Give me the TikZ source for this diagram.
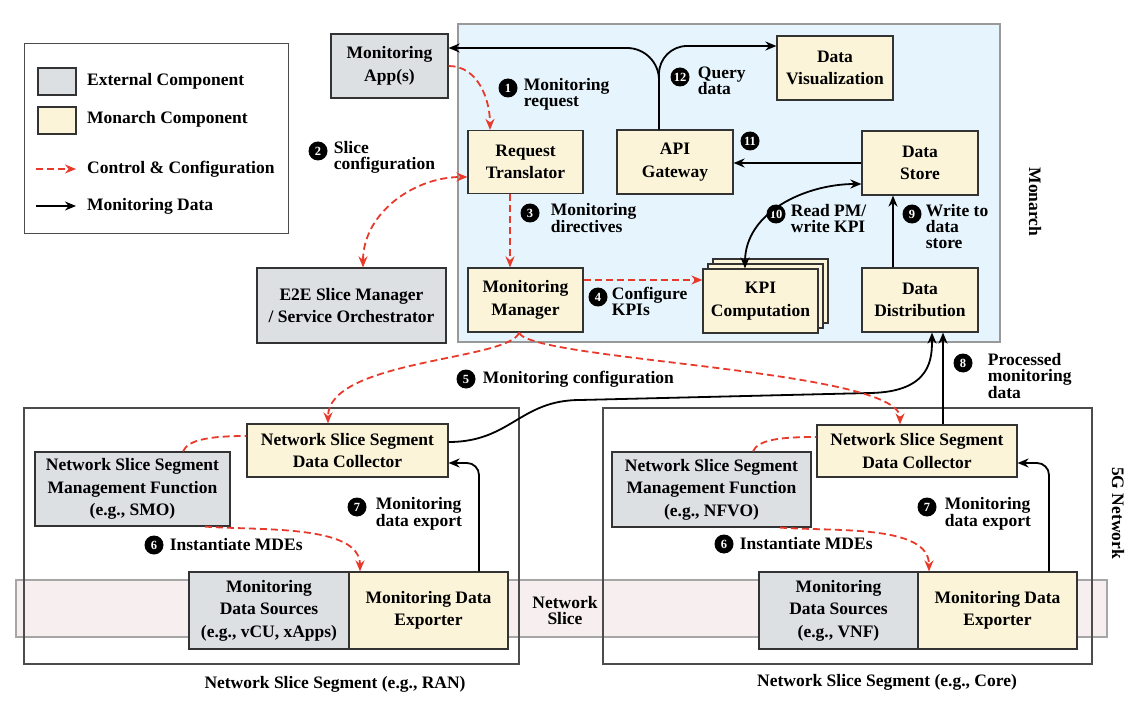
\documentclass[tikz,border=0pt]{standalone}
\usepackage{fontspec}
\setmainfont{Liberation Serif}
\usetikzlibrary{positioning,arrows.meta}
\definecolor{extgray}{HTML}{DCE0E3}
\definecolor{monyellow}{HTML}{FCF4D9}
\definecolor{monblue}{HTML}{E6F5FD}
\definecolor{slicepink}{HTML}{F6EEEF}
\definecolor{ctrlred}{HTML}{E83A2B}
\tikzset{%
  every comp/.style={
    draw=black!80,
    line width=1.2pt,
    align=center,
    inner sep=0pt,
    font=\bfseries\fontsize{17.5}{22.5}\selectfont
  },
  comp ext/.style={fill=extgray},
  comp mon/.style={fill=monyellow},
  ctrl/.style={draw=ctrlred, line width=1.8pt, dash pattern=on 7pt off 4pt, ->},
  mdata/.style={draw=black, line width=1.8pt, ->},
  numdot/.style={
    circle,
    fill=black,
    text=white,
    inner sep=0pt,
    minimum size=19pt,
    font=\bfseries\fontsize{12.5}{12.5}\selectfont
  },
  steplabel/.style={align=left, inner sep=0pt, font=\bfseries\fontsize{17.5}{16}\selectfont},
}

\begin{document}
\begin{tikzpicture}[x=1pt, y=-1pt, >={Stealth[length=11pt,width=9pt]}]
        \useasboundingbox (0,0) rectangle (1144,706);

        % frames
        \draw [draw=black!70, line width=1pt] (24,44) rectangle (288,233);
        \draw [fill=monblue, draw=black!40, line width=1.2pt] (458,24) rectangle (1000,342);
        \draw [fill=slicepink, draw=black!35, line width=1.2pt] (16,580) rectangle (1107,637);
        \draw [draw=black!70, line width=1.2pt] (24,408) rectangle (519,664);
        \draw [draw=black!70, line width=1.2pt] (603,408) rectangle (1092,664);

        % legend
        \node [every comp, comp ext, minimum width=38pt, minimum height=27pt] (leg-ext) at (57,81.5) {};
        \node [every comp, comp mon, minimum width=38pt, minimum height=27pt] (leg-mon) at (57,120.5) {};
        \foreach \m/\l [count=\y] in {ext/External Component, mon/Monarch Component}
        \node [steplabel, anchor=west] (leg-\m-txt) at (87,43+\y*38) {\l};
        \node [steplabel, anchor=west] (leg-ctrl) at (87,169) {Control \& Configuration};
        \node [steplabel, anchor=west] (leg-data) at (87,206) {Monitoring Data};
        \draw [ctrl] ([xshift=-51pt]leg-ctrl.west) -- ([xshift=-11pt]leg-ctrl.west);
        \draw [mdata] ([xshift=-51pt]leg-data.west) -- ([xshift=-11pt]leg-data.west);

        % monarch
        \node [every comp, comp ext, minimum width=117pt, minimum height=64pt] (app) at (389.5,66) {Monitoring\\App(s)};
        \node [every comp, comp ext, minimum width=189pt, minimum height=75pt] (e2e) at (351.5,305.5) {E2E Slice Manager\\/ Service Orchestrator};
        \node [every comp, comp mon, minimum width=115pt, minimum height=63pt] (rt) at (525.5,162) {Request\\Translator};
        \node [every comp, comp mon, minimum width=116pt, minimum height=64pt] (api) at (675,162) {API\\Gateway};
        \node [every comp, comp mon, minimum width=116pt, minimum height=64pt] (vis) at (835,68) {Data\\Visualization};
        \node [every comp, comp mon, minimum width=116pt, minimum height=64pt] (store) at (920,163) {Data\\Store};
        \node [every comp, comp mon, minimum width=115pt, minimum height=64pt] (mm) at (525.5,300) {Monitoring\\Manager};
        \node [every comp, comp mon, minimum width=115pt, minimum height=64pt] (kpi-3) at (770.5,291) {};
        \node [every comp, comp mon, minimum width=115pt, minimum height=64pt] (kpi-2) at (765.5,296) {};
        \node [every comp, comp mon, minimum width=115pt, minimum height=64pt] (kpi) at (760.5,301) {KPI\\Computation};
        \node [every comp, comp mon, minimum width=116pt, minimum height=64pt] (dist) at (920,300) {Data\\Distribution};

        % segments
        \node [every comp, comp mon, minimum width=201pt, minimum height=53pt] (dc1) at (347.5,450.5) {Network Slice Segment\\Data Collector};
        \node [every comp, comp ext, minimum width=195pt, minimum height=74pt] (mf1) at (132.5,489) {Network Slice Segment\\Management Function\\(e.g., SMO)};
        \node [every comp, comp ext, minimum width=160pt, minimum height=77pt] (src1) at (269,610.5) {Monitoring\\Data Sources\\(e.g., vCU, xApps)};
        \node [every comp, comp mon, minimum width=159pt, minimum height=77pt] (exp1) at (428.5,610.5) {Monitoring Data\\Exporter};
        \node [every comp, comp mon, minimum width=200pt, minimum height=52pt] (dc2) at (917,451) {Network Slice Segment\\Data Collector};
        \node [every comp, comp ext, minimum width=199pt, minimum height=75pt] (mf2) at (711.5,489.5) {Network Slice Segment\\Management Function\\(e.g., NFVO)};
        \node [every comp, comp ext, minimum width=159pt, minimum height=77pt] (src2) at (838.5,610.5) {Monitoring\\Data Sources\\(e.g., VNF)};
        \node [every comp, comp mon, minimum width=159pt, minimum height=77pt] (exp2) at (997.5,610.5) {Monitoring Data\\Exporter};

        % titles
        \node [steplabel, rotate=-90] (monarch) at (1035,202) {Monarch};
        \node [steplabel, rotate=-90] (fiveg) at (1118,513) {5G Network};
        \node [steplabel, align=center] (slice) at (565,611) {Network\\Slice};
        \node [steplabel] (ran) at (335,684) {Network Slice Segment (e.g., RAN)};
        \node [steplabel] (core) at (887,682) {Network Slice Segment (e.g., Core)};

        % steps
        \foreach \m/\n/\x/\y in {1/1/508/88, 2/2/318/151, 3/3/530/213, 4/4/598/297, 5/5/466/379,
                6a/6/154/545, 6b/6/724/544, 7a/7/357/507, 7b/7/927/507, 8/8/963/363,
                9/9/912/214, 10/10/776/214, 11/11/750/141, 12/12/680/77}
        \node [numdot] (n\m) at (\x,\y) {\n};

        \node [steplabel, below right=-10pt and 6pt of n1.east] (t1) {Monitoring\\request};
        \node [steplabel, below right=-10pt and 6pt of n2.east] (t2) {Slice\\configuration};
        \node [steplabel, below right=-10pt and 11pt of n3.east] (t3) {Monitoring\\directives};
        \node [steplabel, below right=-10pt and 4pt of n4.east] (t4) {Configure\\KPIs};
        \node [steplabel, right=7pt of n5] (t5) {Monitoring configuration};
        \node [steplabel, right=6pt of n6a] (t6a) {Instantiate MDEs};
        \node [steplabel, right=6pt of n6b] (t6b) {Instantiate MDEs};
        \node [steplabel, below right=-10pt and 9pt of n7a.east] (t7a) {Monitoring\\data export};
        \node [steplabel, below right=-10pt and 8pt of n7b.east] (t7b) {Monitoring\\data export};
        \node [steplabel, below right=-10pt and 15pt of n8.east] (t8) {Processed\\monitoring\\data};
        \node [steplabel, below right=-10pt and 4pt of n9.east] (t9) {Write to\\data\\store};
        \node [steplabel, below right=-10pt and 5pt of n10.east] (t10) {Read PM/\\write KPI};
        \node [steplabel, below right=-10pt and 8pt of n12.east] (t12) {Query\\data};

        % monitoring data
        \draw [mdata, rounded corners=32pt] ([xshift=-16pt]api.north) |- ([yshift=18pt]app.east);
        \draw [mdata, rounded corners=28pt] ([xshift=-16pt]api.north) |- ([yshift=22pt]vis.west);
        \draw [mdata] (store.west) -- (store.west -| api.east);
        \draw [mdata, <->] ([xshift=-15.5pt]kpi.north) to[out=90, in=180] ([yshift=-21pt]store.west);
        \draw [mdata] ([xshift=-27pt]dist.north) -- ([xshift=-27pt]store.south);
        \coordinate (dd-a) at (580,400);
        \coordinate (dd-b) at (870,393);
        \draw [mdata] ([yshift=8.5pt]dc1.east) .. controls +(62,0) and +(-60,0) .. (dd-a) -- (dd-b)
        .. controls +(62,-1) and +(0,25) .. ([xshift=12pt]dist.south);
        \draw [mdata] ([xshift=23pt]dist.south |- dc2.north) -- ([xshift=23pt]dist.south);
        \draw [mdata, rounded corners=12pt] ([xshift=50.5pt]exp1.north) |- ([yshift=-12.5pt]dc1.east);
        \draw [mdata, rounded corners=12pt] ([xshift=51.5pt]exp2.north) |- ([yshift=-12pt]dc2.east);

        % control and configuration
        \draw [ctrl] (app.east) to[out=0, in=90] ([xshift=-35.5pt]rt.north);
        \draw [ctrl, <->] ([xshift=11.5pt]e2e.north) to[out=90, in=180] ([yshift=-15pt]rt.west);
        \draw [ctrl] ([xshift=-15.5pt]rt.south) -- ([xshift=-15.5pt]mm.north);
        \draw [ctrl] ([yshift=20pt]mm.east) -- ([yshift=20pt]mm.east -| kpi.west);
        \draw [ctrl] ([xshift=-6.5pt]mm.south) .. controls +(-9,28) and +(0,-64) .. ([xshift=-19.5pt]dc1.north);
        \draw [ctrl] ([xshift=-6.5pt]mm.south) .. controls +(11,28) and +(0,-55) .. ([xshift=-17pt]dc2.north);
        \draw [ctrl, -] ([xshift=50.5pt]mf1.north) .. controls +(5,-12) and +(-35,0) .. ([yshift=14.5pt]dc1.west);
        \draw [ctrl, -] ([xshift=41.5pt]mf2.north) .. controls +(5,-12) and +(-35,0) .. ([yshift=14pt]dc2.west);
        \draw [ctrl] ([xshift=72.5pt]mf1.south) .. controls +(55,4) and +(0,-47) .. ([xshift=-68.5pt]exp1.north);
        \draw [ctrl] ([xshift=68.5pt]mf2.south) .. controls +(55,4) and +(0,-47) .. ([xshift=-68.5pt]exp2.north);

    \end{tikzpicture}
\end{document}
